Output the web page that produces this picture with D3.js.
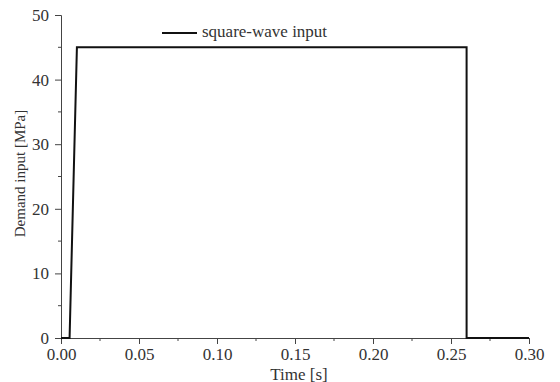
<!DOCTYPE html>
<html>
<head>
<meta charset="utf-8">
<script src="https://cdn.jsdelivr.net/npm/d3@7"></script>
<style>
  body { margin: 0; background: #fff; }
  svg text { font-family: "Liberation Serif", "Times New Roman", serif; fill: #333; }
</style>
</head>
<body>
<svg id="chart" width="560" height="382"></svg>
<script>
// square-wave demand input
const timeValues = [0, 0.0055, 0.0102, 0.26, 0.26, 0.30];
const demandValues = [0, 0, 45, 45, 0, 0];
const xTicks = [0, 0.05, 0.10, 0.15, 0.20, 0.25, 0.30];
const yTicks = [0, 10, 20, 30, 40, 50];
const seriesName = 'square-wave input';

const width = 560;
const height = 382;
const margin = { top: 15, right: 31, bottom: 44, left: 61 };

const svg = d3.select('#chart');
const x = d3.scaleLinear().domain([0, 0.3]).range([margin.left, width - margin.right]);
const y = d3.scaleLinear().domain([0, 50]).range([height - margin.bottom, margin.top]);

const data = timeValues.map((t, i) => ({ t: t, v: demandValues[i] }));

// minor ticks
const xMinor = d3.range(0.025, 0.3, 0.05);
const yMinor = d3.range(5, 50, 10);

const xAxis = svg.append('g').attr('transform', `translate(0,${y(0)})`);
xAxis.call(d3.axisBottom(x).tickValues(xTicks).tickFormat(d3.format('.2f')).tickSizeOuter(0).tickSize(6).tickPadding(4));
xAxis.append('g').selectAll('line').data(xMinor).join('line')
  .attr('x1', d => x(d)).attr('x2', d => x(d)).attr('y1', 0).attr('y2', 3)
  .attr('stroke', '#444');

const yAxis = svg.append('g').attr('transform', `translate(${x(0)},0)`);
yAxis.call(d3.axisLeft(y).tickValues(yTicks).tickSizeOuter(0).tickSize(6).tickPadding(6));
yAxis.append('g').selectAll('line').data(yMinor).join('line')
  .attr('y1', d => y(d)).attr('y2', d => y(d)).attr('x1', 0).attr('x2', -3)
  .attr('stroke', '#444');

svg.selectAll('g').attr('font-family', '"Liberation Serif", serif');
svg.selectAll('.domain, .tick line').attr('stroke', '#444');
svg.selectAll('.tick text').style('font-size', '17px').attr('fill', '#333');

// axis titles
svg.append('text')
  .attr('x', 299).attr('y', 379.5)
  .attr('text-anchor', 'middle')
  .style('font-size', '17px')
  .text('Time [s]');

svg.append('text')
  .attr('transform', `translate(25,${(y(0) + y(50)) / 2 - 3}) rotate(-90)`)
  .attr('text-anchor', 'middle')
  .style('font-size', '15px')
  .text('Demand input [MPa]');

// the series
const line = d3.line().x(d => x(d.t)).y(d => y(d.v));
svg.append('path')
  .datum(data)
  .attr('fill', 'none')
  .attr('stroke', '#111')
  .attr('stroke-width', 2)
  .attr('d', line);

// legend
svg.append('line')
  .attr('x1', 162).attr('x2', 197).attr('y1', 33).attr('y2', 33)
  .attr('stroke', '#111').attr('stroke-width', 2);
svg.append('text')
  .attr('x', 202).attr('y', 37)
  .style('font-size', '17px')
  .text(seriesName);
</script>
</body>
</html>
